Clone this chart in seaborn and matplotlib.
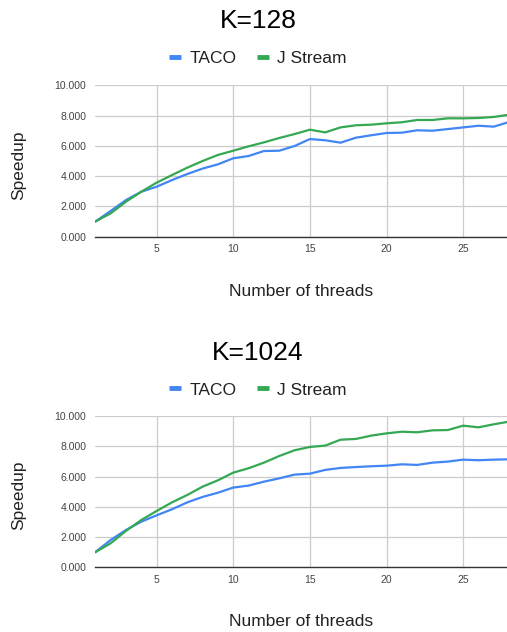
import matplotlib
matplotlib.use("Agg")
import matplotlib.pyplot as plt
from matplotlib.lines import Line2D
from matplotlib.ticker import FormatStrFormatter
import numpy as np
import pandas as pd
import seaborn as sns

threads = list(range(1, 29))

taco_128 = [1.00, 1.70, 2.42, 2.97, 3.30, 3.74, 4.14, 4.50, 4.78, 5.18,
            5.33, 5.66, 5.68, 5.99, 6.45, 6.37, 6.21, 6.54, 6.70, 6.85,
            6.87, 7.03, 7.00, 7.11, 7.22, 7.33, 7.27, 7.58]
jstream_128 = [1.00, 1.54, 2.31, 2.97, 3.57, 4.07, 4.56, 5.00, 5.40, 5.68,
               5.97, 6.23, 6.52, 6.78, 7.07, 6.89, 7.22, 7.36, 7.40, 7.49,
               7.56, 7.71, 7.71, 7.82, 7.82, 7.84, 7.91, 8.06]

taco_1024 = [1.00, 1.81, 2.47, 3.02, 3.44, 3.84, 4.30, 4.66, 4.94, 5.28,
             5.41, 5.67, 5.89, 6.14, 6.20, 6.45, 6.58, 6.64, 6.69, 6.73,
             6.82, 6.78, 6.93, 7.00, 7.13, 7.09, 7.13, 7.15]
jstream_1024 = [1.00, 1.59, 2.41, 3.13, 3.73, 4.30, 4.79, 5.34, 5.76, 6.27,
                6.56, 6.93, 7.37, 7.75, 7.97, 8.06, 8.45, 8.50, 8.72, 8.87,
                8.98, 8.94, 9.07, 9.09, 9.38, 9.27, 9.47, 9.65]

series_names = ["TACO", "J Stream"]
panel_titles = ["K=128", "K=1024"]
x_ticks = [5, 10, 15, 20, 25]
y_ticks = [0, 2, 4, 6, 8, 10]

colors = {"TACO": "#4285F4", "J Stream": "#34A853"}

sns.set_theme(style="white")
plt.rcParams["font.family"] = ["Liberation Sans", "DejaVu Sans"]

fig = plt.figure(figsize=(5.07, 6.32), dpi=100)

panels = [
    (panel_titles[0], taco_128, jstream_128,
     [0.188, 0.6255, 0.812, 0.2395], 0.966, 0.907, 0.538),
    (panel_titles[1], taco_1024, jstream_1024,
     [0.188, 0.1024, 0.812, 0.2389], 0.441, 0.383, 0.016),
]

for title, taco, jst, rect, ty, ly, xly in panels:
    ax = fig.add_axes(rect)
    df = pd.DataFrame({
        "threads": threads * 2,
        "speedup": taco + jst,
        "series": [series_names[0]] * len(threads) + [series_names[1]] * len(threads),
    })
    sns.lineplot(data=df, x="threads", y="speedup", hue="series",
                 hue_order=series_names, palette=colors, linewidth=1.6,
                 ax=ax, legend=False, clip_on=True)
    ax.set_xlim(1, 27.86)
    ax.set_ylim(0, 10)
    ax.set_xticks(x_ticks)
    ax.set_yticks(y_ticks)
    ax.yaxis.set_major_formatter(FormatStrFormatter("%.3f"))
    ax.grid(True, color="#cccccc", linewidth=0.9)
    ax.set_axisbelow(True)
    for s in ["top", "right", "left"]:
        ax.spines[s].set_visible(False)
    ax.spines["bottom"].set_color("#333333")
    ax.spines["bottom"].set_linewidth(1.0)
    ax.spines["bottom"].set_zorder(3)
    ax.tick_params(axis="both", length=0, labelsize=7.5, colors="#444444")
    ax.tick_params(axis="x", pad=5.5)
    ax.tick_params(axis="y", pad=6.5)
    ax.set_xlabel("")
    ax.set_ylabel("")

    # Panel title, legend, and axis labels
    fig.text(0.509, ty, title, ha="center", va="center", fontsize=19, color="#000000")
    handles = [Line2D([0], [0], color=colors[n], lw=3.5, solid_capstyle="butt") for n in series_names]
    fig.legend(handles, series_names, loc="center", bbox_to_anchor=(0.509, ly),
               ncol=2, frameon=False, fontsize=12.5, handlelength=0.65,
               handletextpad=0.5, columnspacing=1.2, labelcolor="#222222")
    fig.text(0.594, xly, "Number of threads", ha="center", va="center",
             fontsize=12.5, color="#222222")
    fig.text(0.036, rect[1] + rect[3] / 2 - 0.006, "Speedup", ha="center", va="center",
             rotation=90, fontsize=12.5, color="#222222")

fig.savefig("out.png", dpi=100)
